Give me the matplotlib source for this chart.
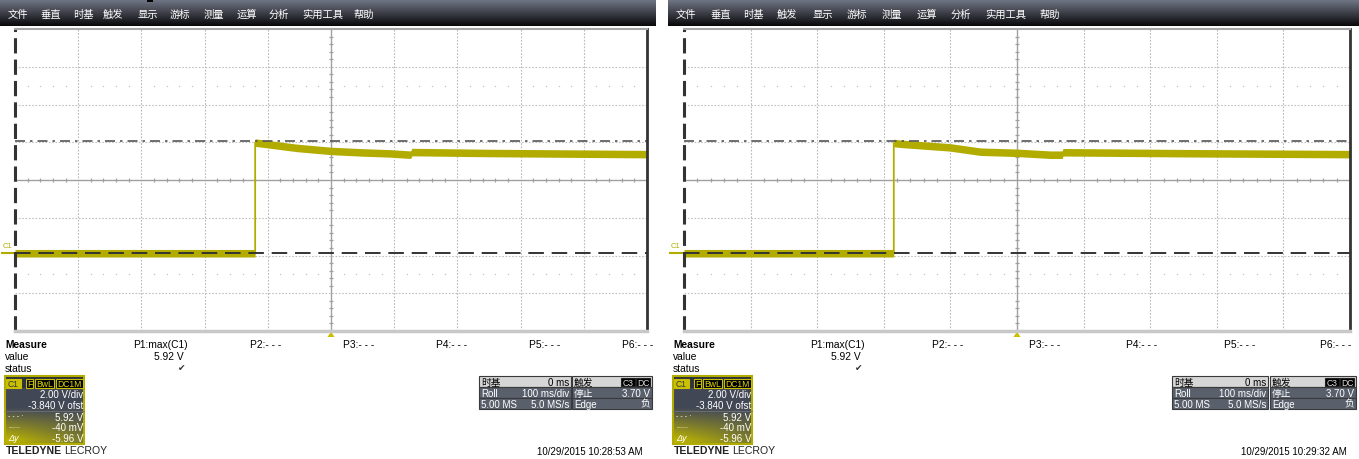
import numpy as np
import matplotlib
matplotlib.use('Agg')
from matplotlib import pyplot as plt
from matplotlib.patches import Rectangle, Polygon

plt.rcParams['font.family'] = ['Liberation Sans', 'Noto Sans CJK SC', 'DejaVu Sans']

W, H = 1359, 460

# 波形数据 (时间 ms, 电压 V)
left_t = [-500, -120, -120, -110, -54, 0, 50, 93, 126, 128, 250, 500]
left_v = [-0.04, -0.04, 5.82, 5.78, 5.54, 5.38, 5.30, 5.25, 5.18, 5.32, 5.27, 5.21]
right_t = [-500, -185, -185, -175, -101, -55, 0, 50, 68, 69, 250, 500]
right_v = [-0.04, -0.04, 5.80, 5.76, 5.57, 5.34, 5.28, 5.18, 5.18, 5.31, 5.26, 5.21]

cursor_hi = 5.92
cursor_lo = -0.04
volt_div = 2.0
offset = -3.840
ms_div = 100

menu_items = ['文件', '垂直', '时基', '触发', '显示', '游标', '测量', '运算', '分析', '实用工具', '帮助']
menu_x_left = [8, 40, 73, 103, 138, 170, 204, 237, 269, 302, 353]
menu_x_right = [676, 710, 743, 777, 813, 847, 882, 917, 951, 985, 1040]

p_labels = ['P1:max(C1)', 'P2:- - -', 'P3:- - -', 'P4:- - -', 'P5:- - -', 'P6:- - -']
p_x_left = [133, 250, 343, 436, 529, 622]
p_x_right = [810, 932, 1029, 1126, 1224, 1320]
p1_value = '5.92 V'

c1_rows = ['2.00 V/div', '-3.840 V ofst', '5.92 V', '-40 mV', '-5.96 V']
tb_rows = [('时基', '0 ms'), ('Roll', '100 ms/div'), ('5.00 MS', '5.0 MS/s')]
trig_rows = [('触发', ''), ('停止', '3.70 V'), ('Edge', '负')]
stamps = ['10/29/2015 10:28:53 AM', '10/29/2015 10:29:32 AM']

TRACE = '#b3ac00'

fig = plt.figure(figsize=(W / 100, H / 100), dpi=100)
ov = fig.add_axes([0, 0, 1, 1])
ov.axis('off')


def menu_bar(x0, x1, xs):
    g = np.linspace(0, 1, 27)
    top = np.array([0.45, 0.47, 0.53])
    bot = np.array([0.04, 0.04, 0.05])
    col = top[None, :] * (1 - g[:, None]) + bot[None, :] * g[:, None]
    img = np.repeat(col[:, None, :], 4, axis=1)
    ov.imshow(img, extent=(x0, x1, 27, 0), aspect='auto', interpolation='bilinear')
    for name, x in zip(menu_items, xs):
        ov.text(x, 15, name, color='white', fontsize=7.4, va='center', ha='left')


def scope_grid(x0, x1, t, v):
    ax = fig.add_axes([x0 / W, 1 - 332 / H, (x1 - x0) / W, 302 / H])
    ax.set_facecolor('white')
    c = -offset
    ax.set_xlim(-5 * ms_div, 5 * ms_div)
    ax.set_ylim(c - 4 * volt_div, c + 4 * volt_div)
    for i in range(-4, 5):
        if i != 0:
            ax.axvline(i * ms_div, color='#b8b8b8', lw=0.8, ls=(0, (1.5, 1.5)))
    for j in range(-3, 4):
        if j != 0:
            ax.axhline(c + j * volt_div, color='#c0c0c0', lw=0.8, ls=(0, (1.5, 1.5)))
    ax.axvline(0, color='#a0a0a0', lw=1.0)
    ax.axhline(c, color='#a0a0a0', lw=1.0)
    # 中心刻度
    tx = [k * ms_div / 5 for k in range(-25, 26) if k % 5 != 0]
    ax.vlines(tx, c - 0.1, c + 0.1, color='#a0a0a0', lw=0.9)
    ty = [c + k * volt_div / 5 for k in range(-20, 21) if k % 5 != 0]
    ax.hlines(ty, -3.5, 3.5, color='#a0a0a0', lw=0.9)
    for yy in (c + 2.5 * volt_div, c - 2.5 * volt_div):
        ax.plot(tx, [yy] * len(tx), ls='none', marker='s', ms=0.9, color='#c0c0c0', mew=0)
    # 波形
    tv = np.array(t, float)
    vv = np.array(v, float)
    ax.fill_between(tv, vv - 0.2, vv + 0.2, color=TRACE, lw=0, zorder=3)
    ax.plot(tv, vv, color=TRACE, lw=1.3, zorder=3)
    # 光标
    ax.axhline(cursor_hi, color='#555555', lw=1.2, ls=(0, (6, 3, 1.5, 3)), zorder=4)
    ax.axhline(cursor_lo, color='#333333', lw=1.4, ls=(0, (8, 4)), zorder=4)
    for s in ax.spines.values():
        s.set_visible(False)
    ax.axvline(-5 * ms_div, color='#333333', lw=2.2, ls=(0, (5, 2)), clip_on=False, zorder=5)
    ax.axvline(5 * ms_div, color='#333333', lw=2.0, clip_on=False, zorder=5)
    ax.axhline(c + 4 * volt_div, color='#a8a8a8', lw=1.5, clip_on=False, zorder=5)
    ax.axhline(c - 4 * volt_div, color='#c8c8c8', lw=2.5, clip_on=False, zorder=5)
    ax.set_xticks([])
    ax.set_yticks([])
    return ax


def tag(x0, x1, y0, y1, text, fc, ec, tc):
    ov.add_patch(Rectangle((x0, y0), x1 - x0, y1 - y0, fc=fc, ec=ec, lw=0.8))
    ov.text((x0 + x1) / 2, (y0 + y1) / 2 + 0.5, text, color=tc, fontsize=6.2, ha='center', va='center')


def c1_box(ox):
    x0, x1, y0, y1 = 5 + ox, 84 + ox, 377, 445
    ov.add_patch(Rectangle((x0, y0), x1 - x0, 12, fc='#2e323b', ec='none'))
    ny, nx = 56, 79
    yy, xx = np.mgrid[0:ny, 0:nx]
    w = np.clip((yy + 389 - 408) / 32.0, 0, 1) * (1 - 0.55 * xx / nx)
    slate = np.array([0.26, 0.28, 0.34])
    yel = np.array([0.74, 0.71, 0.0])
    img = slate[None, None, :] * (1 - w[..., None]) + yel[None, None, :] * w[..., None]
    ov.imshow(img, extent=(x0, x1, y1, 389), aspect='auto', interpolation='bilinear')
    ov.add_patch(Rectangle((x0, y0), x1 - x0, y1 - y0, fc='none', ec=TRACE, lw=1.5))
    ov.plot([x0, x1], [412, 412], color='#6a7080', lw=0.6)
    tag(6 + ox, 21 + ox, 380, 389, 'C1', '#c8c000', '#c8c000', '#3a3a3a')
    tag(26 + ox, 33 + ox, 380, 389, 'F', 'black', '#c8c000', '#e0d800')
    tag(35 + ox, 54 + ox, 380, 389, 'BwL', 'black', '#c8c000', '#e0d800')
    tag(56 + ox, 83 + ox, 380, 389, 'DC1M', 'black', '#c8c000', '#e0d800')
    ys = [395, 406, 418, 428, 439]
    for s, y in zip(c1_rows, ys):
        ov.text(83 + ox, y, s, color='white', fontsize=7, ha='right', va='center')
    ov.text(8 + ox, 417, '- - - ·', color='white', fontsize=5, ha='left', va='center')
    ov.text(8 + ox, 427, '......', color='white', fontsize=5, ha='left', va='center')
    ov.text(8 + ox, 439, 'Δy', color='white', fontsize=6.5, ha='left', va='center', style='italic')
    ov.text(6 + ox, 451, 'TELEDYNE', color='#222222', fontsize=7.6, fontweight='bold', ha='left', va='center')
    ov.text(64 + ox, 451, 'LECROY', color='#222222', fontsize=7.6, ha='left', va='center')


def info_box(x0, x1, rows, tags=None):
    ys = [377, 388, 399, 410]
    for i, (a, b) in enumerate(rows):
        fc = '#d6d6d6' if i == 0 else '#59606c'
        tc = 'black' if i == 0 else 'white'
        ov.add_patch(Rectangle((x0, ys[i]), x1 - x0, 11, fc=fc, ec='#3a3a3a', lw=0.8))
        ov.text(x0 + 2, ys[i] + 5.8, a, color=tc, fontsize=7, ha='left', va='center')
        if b:
            ov.text(x1 - 2, ys[i] + 5.8, b, color=tc, fontsize=7, ha='right', va='center')
    if tags:
        for (s, a, b) in tags:
            tag(a, b, 379, 387, s, 'black', '#222222', '#dddddd')


def panel(ox, gx0, gx1, t, v, menu_x, p_x, pw, tbx, trx, stamp):
    menu_bar(ox, pw, menu_x)
    scope_grid(gx0, gx1, t, v)
    ov.text(3 + ox, 247, 'C1', color=TRACE, fontsize=5.5, ha='left', va='center')
    ov.plot([2 + ox, gx0], [254, 254], color=TRACE, lw=1.5)
    mid = (gx0 + gx1) / 2
    ov.add_patch(Polygon([[mid, 332.5], [mid - 3.5, 338], [mid + 3.5, 338]], fc='#c8c000', ec='none'))
    ov.text(5 + ox, 345, 'Measure', fontsize=7.4, fontweight='bold', ha='left', va='center')
    ov.text(5 + ox, 357, 'value', fontsize=7.4, ha='left', va='center')
    ov.text(5 + ox, 369, 'status', fontsize=7.4, ha='left', va='center')
    for s, x in zip(p_labels, p_x):
        ov.text(x, 345, s, fontsize=7.4, ha='left', va='center')
    ov.text(p_x[0] + 51, 357, p1_value, fontsize=7.4, ha='right', va='center')
    ov.text(p_x[0] + 49, 369, '✔', fontsize=6.5, ha='center', va='center', color='#333333',
            family=['DejaVu Sans'])
    c1_box(ox)
    info_box(tbx[0], tbx[1], tb_rows)
    info_box(trx[0], trx[1], trig_rows, tags=[('C3', trx[1] - 31, trx[1] - 17), ('DC', trx[1] - 16, trx[1] - 2)])
    ov.text(trx[1] - 9, 452, stamp, fontsize=7, ha='right', va='center')


panel(0, 15, 647, left_t, left_v, menu_x_left, p_x_left, 656, (479, 571), (572, 652), stamps[0])
panel(668, 684, 1350, right_t, right_v, menu_x_right, p_x_right, 1359, (1172, 1268), (1270, 1356), stamps[1])
ov.add_patch(Rectangle((147, 0), 6, 3, fc='black', ec='none'))

ov.set_xlim(0, W)
ov.set_ylim(H, 0)
fig.savefig('out.png', dpi=100)
